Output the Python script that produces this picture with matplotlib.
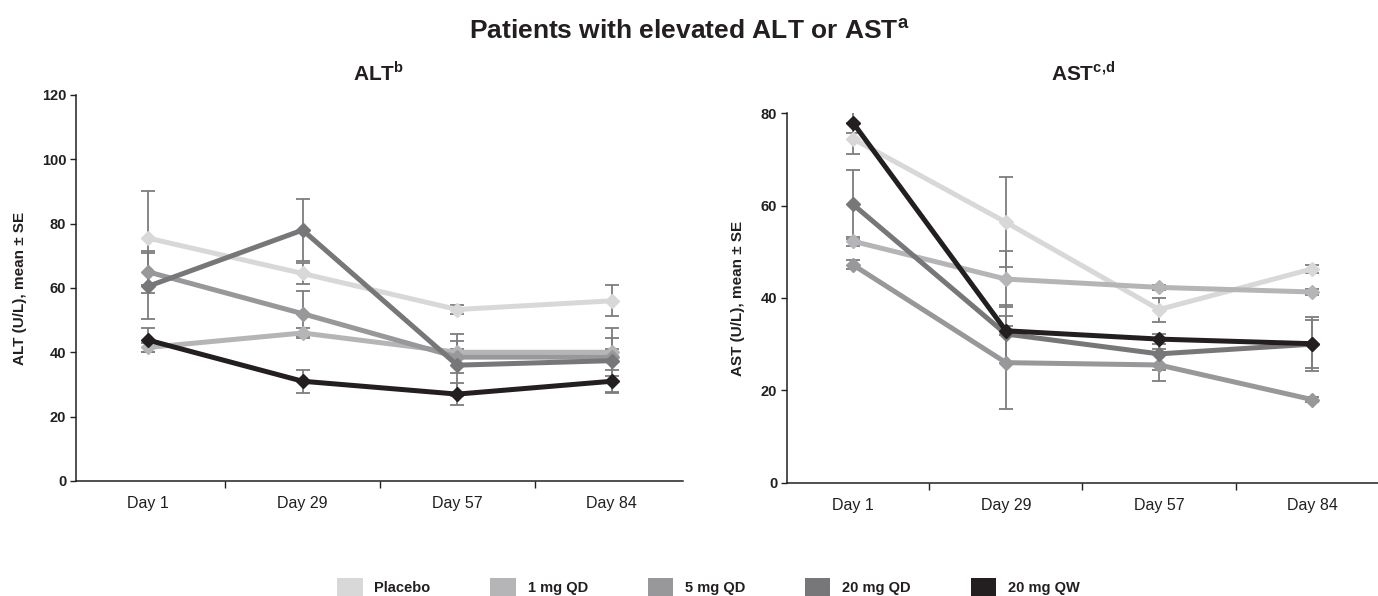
import matplotlib
matplotlib.use("Agg")
import matplotlib.pyplot as plt
from matplotlib.patches import Patch

plt.rcParams['font.family'] = ['Liberation Sans', 'DejaVu Sans']
plt.rcParams['mathtext.fontset'] = 'custom'
plt.rcParams['mathtext.rm'] = 'Liberation Sans:bold'

days = ["Day 1", "Day 29", "Day 57", "Day 84"]
groups = ["Placebo", "1 mg QD", "5 mg QD", "20 mg QD", "20 mg QW"]
colors = ["#d8d8d9", "#b5b5b8", "#98989b", "#77777a", "#231f20"]

# ALT mean and SE
alt_placebo = [75.5, 64.5, 53.3, 56.0]
alt_1mg = [41.5, 46.0, 40.0, 40.0]
alt_5mg = [65.0, 52.0, 38.5, 38.5]
alt_20qd = [60.5, 78.0, 36.0, 37.4]
alt_20qw = [43.8, 31.0, 27.0, 31.0]
alt_placebo_se = [14.5, 3.2, 1.4, 4.8]
alt_1mg_se = [1.5, 1.6, 1.0, 1.0]
alt_5mg_se = [6.5, 7.0, 5.0, 6.0]
alt_20qd_se = [10.3, 9.6, 9.7, 10.0]
alt_20qw_se = [3.7, 3.5, 3.4, 3.4]

# AST mean and SE
ast_placebo = [74.5, 56.4, 37.5, 46.3]
ast_1mg = [52.3, 44.1, 42.3, 41.3]
ast_5mg = [47.2, 26.0, 25.5, 18.0]
ast_20qd = [60.3, 32.2, 27.9, 30.0]
ast_20qw = [78.0, 32.9, 31.1, 30.1]
ast_placebo_se = [3.4, 9.7, 2.6, 0.9]
ast_1mg_se = [1.0, 6.0, 0.6, 0.6]
ast_5mg_se = [1.0, 10.0, 3.4, 0.6]
ast_20qd_se = [7.5, 6.3, 3.5, 5.9]
ast_20qw_se = [2.2, 1.0, 1.0, 5.2]

alt_means = [alt_placebo, alt_1mg, alt_5mg, alt_20qd, alt_20qw]
alt_ses = [alt_placebo_se, alt_1mg_se, alt_5mg_se, alt_20qd_se, alt_20qw_se]
ast_means = [ast_placebo, ast_1mg, ast_5mg, ast_20qd, ast_20qw]
ast_ses = [ast_placebo_se, ast_1mg_se, ast_5mg_se, ast_20qd_se, ast_20qw_se]

txt = "#231f20"
fig = plt.figure(figsize=(13.78, 5.96), dpi=100)
ax1 = fig.add_axes([0.0552, 0.193, 0.4405, 0.6477])
ax2 = fig.add_axes([0.5711, 0.1901, 0.4289, 0.6198])


def draw(ax, means, ses, ymax, ylabel, xlim):
	x = list(range(len(days)))
	for m, s in zip(means, ses):
		ax.errorbar(x, m, yerr=s, fmt='none', ecolor='#7d7d80', elinewidth=1.3,
		            capsize=5, capthick=1.3, zorder=1)
	for i, (m, c) in enumerate(zip(means, colors)):
		ax.plot(x, m, color=c, lw=3.6, marker='D', ms=7, zorder=2 + i)
	ax.set_ylim(0, ymax)
	ax.set_xlim(*xlim)
	ax.set_yticks(range(0, ymax + 1, 20))
	for lab in ax.get_yticklabels():
		lab.set_fontweight('bold')
	ax.tick_params(axis='y', labelsize=10.5, length=4, width=1, colors=txt, pad=3)
	ax.set_xticks([0.5, 1.5, 2.5])
	ax.set_xticklabels([])
	ax.set_xticks(x, minor=True)
	ax.set_xticklabels(days, minor=True)
	ax.tick_params(axis='x', which='major', length=5, width=1, direction='out', colors=txt)
	ax.tick_params(axis='x', which='minor', length=0, labelsize=11.5, pad=11, labelcolor=txt)
	for sp in ['top', 'right']:
		ax.spines[sp].set_visible(False)
	for sp in ['left', 'bottom']:
		ax.spines[sp].set_color(txt)
		ax.spines[sp].set_linewidth(1.1)
	ax.set_ylabel(ylabel, fontsize=11, fontweight='bold', color=txt, labelpad=11)


draw(ax1, alt_means, alt_ses, 120, "ALT (U/L), mean ± SE", (-0.465, 3.46))
draw(ax2, ast_means, ast_ses, 80, "AST (U/L), mean ± SE", (-0.43, 3.43))

fig.text(0.5, 0.948, r"Patients with elevated ALT or AST$^{\mathrm{a}}$", ha='center', va='center',
         fontsize=19, fontweight='bold', color=txt)
fig.text(0.275, 0.878, r"ALT$^{\mathrm{b}}$", ha='center', va='center',
         fontsize=15, fontweight='bold', color=txt)
fig.text(0.786, 0.878, r"AST$^{\mathrm{c{,}d}}$", ha='center', va='center',
         fontsize=15, fontweight='bold', color=txt)

handles = [Patch(facecolor=c, edgecolor='none') for c in colors]
leg = fig.legend(handles, groups, loc='center', bbox_to_anchor=(0.514, 0.014), ncol=5,
                 frameon=False, handlelength=1.75, handleheight=1.6, handletextpad=0.8,
                 columnspacing=4.1, prop={'weight': 'bold', 'size': 10.5})
for t in leg.get_texts():
	t.set_color(txt)

fig.savefig('out.png', dpi=100)
